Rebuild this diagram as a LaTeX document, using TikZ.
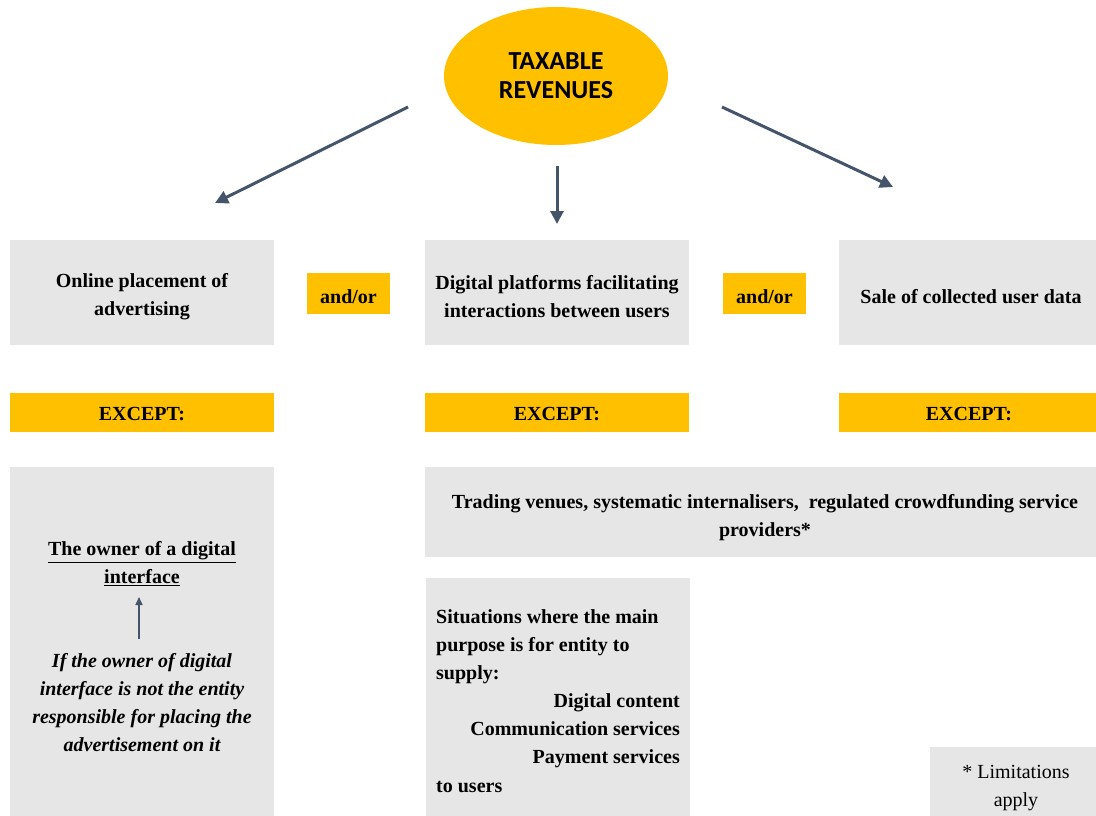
\documentclass[tikz,border=0pt]{standalone}
\usepackage{fontspec}
\setmainfont{Liberation Serif}
\newfontfamily\headfont{Carlito}
\usetikzlibrary{arrows.meta,shapes.geometric}
\definecolor{ygold}{HTML}{FFC000}
\definecolor{lgray}{HTML}{E7E6E6}
\definecolor{slate}{HTML}{44546A}
\begin{document}
\begin{tikzpicture}[x=1pt,y=-1pt,
  box/.style={fill=lgray,draw=none,inner sep=0pt},
  ybox/.style={fill=ygold,draw=none,inner sep=0pt},
  txt/.style={font=\fontsize{20}{28}\selectfont\bfseries,align=center,inner sep=0pt},
  conn/.style={draw=slate,line width=3pt,-{Triangle[length=13pt,width=13pt]}}]
\useasboundingbox (0,0) rectangle (1096,816);
% ellipse
\node[ellipse,fill=ygold,minimum width=224pt,minimum height=138pt,inner sep=0pt,
  font=\headfont\fontsize{26}{29}\selectfont\bfseries,align=center] (tax) at (556,76) {TAXABLE\\REVENUES};
% top boxes
\fill[lgray] (10,240) rectangle (274,345);
\fill[lgray] (425,240) rectangle (689,345);
\fill[lgray] (839,240) rectangle (1096,345);
\node[txt] (adv) at (142,297) {Online placement of\\advertising};
\node[txt] (plat) at (557,297) {Digital platforms facilitating\\interactions between users};
\node[txt] (sale) at (971,297) {Sale of collected user data};
% and/or
\fill[ygold] (307,273) rectangle (390,314);
\fill[ygold] (723,273) rectangle (806,314);
\node[txt] (ao1) at (348.5,297) {and/or};
\node[txt] (ao2) at (764.5,297) {and/or};
% arrows
\coordinate (t1s) at (408,107);
\coordinate (t1e) at (215,203);
\coordinate (t2s) at (557,166);
\coordinate (t2e) at (557,224);
\coordinate (t3s) at (722,107);
\coordinate (t3e) at (893,187);
\draw[conn] (t1s) -- (t1e);
\draw[conn] (t2s) -- (t2e);
\draw[conn] (t3s) -- (t3e);
% EXCEPT bars
\fill[ygold] (10,393) rectangle (274,432);
\fill[ygold] (425,393) rectangle (689,432);
\fill[ygold] (839,393) rectangle (1096,432);
\node[txt] (ex1) at (142,414) {EXCEPT:};
\node[txt] (ex2) at (557,414) {EXCEPT:};
\node[txt] (ex3) at (969,414) {EXCEPT:};
% bottom boxes
\fill[lgray] (10,467) rectangle (274,816);
\fill[lgray] (425,467) rectangle (1096,557);
\fill[lgray] (426,578) rectangle (690,816);
\fill[lgray] (930,747) rectangle (1096,816);
\node[txt] (own) at (142,564) {\underline{The owner of a digital}\\\underline{interface}};
\node[txt,font=\fontsize{20}{28}\selectfont\bfseries\itshape] (cond) at (142,703)
  {If the owner of digital\\interface is not the entity\\responsible for placing the\\advertisement on it};
\coordinate (oa) at (139,639);
\coordinate (ob) at (139,597);
\draw[draw=slate,line width=1.6pt,-{Triangle[length=8pt,width=7pt]}] (oa) -- (ob);
\node[txt] (trade) at (765,518) {Trading venues, systematic internalisers,\ \ regulated crowdfunding service\\providers*};
\node[txt,align=left,anchor=north west] (sit) at (436,609)
  {Situations where the main\\purpose is for entity to\\supply:};
\node[txt,align=right,anchor=north east] (list) at (680,693)
  {Digital content\\Communication services\\Payment services};
\node[txt,align=left,anchor=north west] (users) at (436,781) {to users};
\node[font=\fontsize{20}{28}\selectfont,align=center,inner sep=0pt] (lim) at (1016,788) {* Limitations\\apply};
\end{tikzpicture}
\end{document}
